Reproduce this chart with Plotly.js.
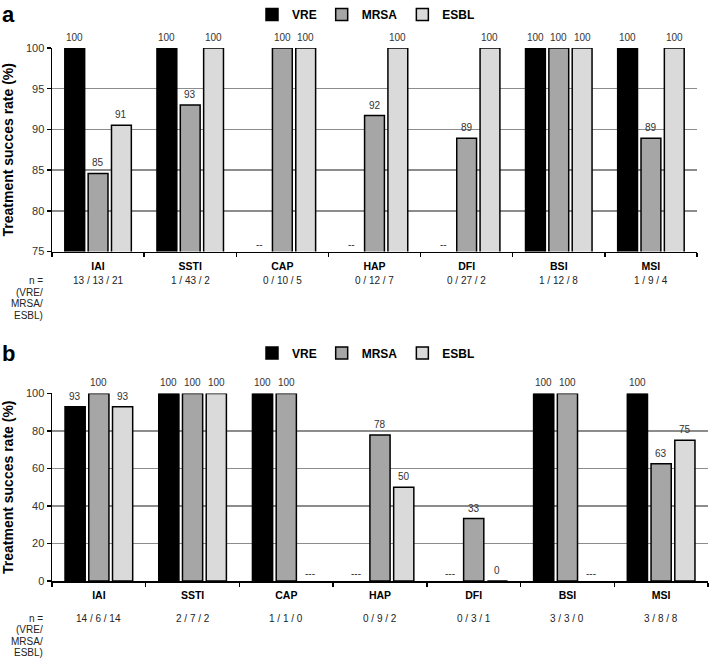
<!DOCTYPE html>
<html><head><meta charset="utf-8">
<script src="https://cdn.plot.ly/plotly-3.0.1.min.js"></script>
<style>html,body{margin:0;padding:0;background:#fff}</style>
</head><body><div id="chart" style="width:710px;height:660px"></div>
<script>
const categories = ['IAI','SSTI','CAP','HAP','DFI','BSI','MSI'];
const seriesNames = ['VRE','MRSA','ESBL'];
// panel a (values in %)
const aVRE  = [100, 100, null, null, null, 100, 100];
const aMRSA = [84.6, 93.0, 100, 91.7, 88.9, 100, 88.9];
const aESBL = [90.5, 100, 100, 100, 100, 100, 100];
const aCounts = ['13 / 13 / 21','1 / 43 / 2','0 / 10 / 5','0 / 12 / 7','0 / 27 / 2','1 / 12 / 8','1 / 9 / 4'];
const aMissing = '--';
// panel b (values in %)
const bVRE  = [92.9, 100, 100, null, null, 100, 100];
const bMRSA = [100, 100, 100, 77.8, 33.3, 100, 62.5];
const bESBL = [92.9, 100, null, 50, 0, null, 75];
const bCounts = ['14 / 6 / 14','2 / 7 / 2','1 / 1 / 0','0 / 9 / 2','0 / 3 / 1','3 / 3 / 0','3 / 8 / 8'];
const bMissing = '---';
const nLabelLines = ['n =','(VRE/','MRSA/','ESBL)'];

const colors = ['#000000','#a6a6a6','#dadada'];
const FONT = 'Arial, "Liberation Sans", Helvetica, sans-serif';
const W = 710, H = 660;
const BARGAP = 0.24, BARGROUPGAP = 0.15;

const panels = [
  {series:[aVRE,aMRSA,aESBL], counts:aCounts, missing:aMissing, xa:'x', ya:'y', legend:'legend',
   xpx:[52,697], ypx:[47,251], range:[75,100], dtick:5, countY:280, nY:280, nStep:11.6, label:'a', labelY:14, legendY:14},
  {series:[bVRE,bMRSA,bESBL], counts:bCounts, missing:bMissing, xa:'x2', ya:'y2', legend:'legend2',
   xpx:[52,708], ypx:[393,581], range:[0,100], dtick:20, countY:618, nY:618, nStep:11.5, label:'b', labelY:353, legendY:353}
];

const traces = [];
const annotations = [];
const layout = {
  width: W, height: H,
  margin: {l:0, r:0, t:0, b:0},
  paper_bgcolor: '#fff', plot_bgcolor: '#fff',
  barmode: 'group', bargap: BARGAP, bargroupgap: BARGROUPGAP,
  font: {family: FONT, color: '#000'},
  hovermode: false,
  annotations: annotations
};

panels.forEach((p, pi) => {
  const sfx = pi === 0 ? '' : '2';
  p.series.forEach((vals, si) => {
    traces.push({
      type: 'bar', x: categories, y: vals, name: seriesNames[si],
      xaxis: p.xa, yaxis: p.ya, legend: p.legend,
      marker: {color: colors[si], line: {color: '#000', width: 1.5}},
      hoverinfo: 'skip'
    });
  });
  layout['xaxis' + sfx] = {
    domain: [p.xpx[0]/W, p.xpx[1]/W], anchor: p.ya, type: 'category',
    tickson: 'boundaries', ticks: 'outside', ticklen: 4, tickwidth: 1.5, tickcolor: '#000',
    ticklabelstandoff: 4,
    showline: true, linecolor: '#000', linewidth: 1.5, showgrid: false, zeroline: false,
    tickfont: {family: FONT, size: 10.5, weight: 'bold', color: '#000'}, fixedrange: true
  };
  layout['yaxis' + sfx] = {
    domain: [1 - p.ypx[1]/H, 1 - p.ypx[0]/H], anchor: p.xa, range: p.range, dtick: p.dtick, tick0: 0,
    showline: true, linecolor: '#000', linewidth: 1.5, ticks: 'outside', ticklen: 4, tickwidth: 1.5, tickcolor: '#000',
    showgrid: true, gridcolor: '#8c8c8c', gridwidth: 1.5, zeroline: false,
    tickfont: {family: FONT, size: 11, color: '#333'}, fixedrange: true,
    title: {text: 'Treatment succes rate (%)', font: {family: FONT, size: 14, weight: 'bold', color: '#000'}, standoff: 9}
  };
  layout[p.legend] = {
    orientation: 'h', x: 366/W, xanchor: 'center', y: 1 - p.legendY/H, yanchor: 'middle',
    font: {family: FONT, size: 12, weight: 'bold', color: '#000'}, bgcolor: 'rgba(0,0,0,0)', traceorder: 'normal'
  };
  // value labels and missing markers
  const catPx = (p.xpx[1] - p.xpx[0]) / categories.length;
  const slot = catPx * (1 - BARGAP) / 3;
  p.series.forEach((vals, si) => {
    vals.forEach((v, ci) => {
      const isMissing = (v === null);
      annotations.push({
        xref: p.xa, yref: p.ya, x: categories[ci], y: isMissing ? p.range[0] : v,
        xshift: (si - 1) * slot, yshift: isMissing ? 0 : 3, yanchor: 'bottom', showarrow: false,
        text: isMissing ? p.missing : String(Math.round(v)),
        font: {family: FONT, size: 10, color: '#333'}
      });
    });
  });
  // counts
  p.counts.forEach((c, ci) => {
    annotations.push({
      xref: p.xa, yref: 'paper', x: categories[ci], y: 1 - p.countY/H, yanchor: 'middle',
      showarrow: false, text: c, font: {family: FONT, size: 10, color: '#222'}
    });
  });
  nLabelLines.forEach((t, li) => {
    annotations.push({
      xref: 'paper', yref: 'paper', x: 45/W, xanchor: 'right', y: 1 - (p.nY + li*p.nStep)/H, yanchor: 'middle',
      showarrow: false, text: t, align: 'right', font: {family: FONT, size: 10, color: '#222'}
    });
  });
  annotations.push({
    xref: 'paper', yref: 'paper', x: 0, xanchor: 'left', y: 1 - p.labelY/H, yanchor: 'middle',
    showarrow: false, text: p.label, font: {family: FONT, size: 22, weight: 'bold', color: '#000'}
  });
});

Plotly.newPlot('chart', traces, layout, {staticPlot: true, displayModeBar: false});
</script></body></html>
